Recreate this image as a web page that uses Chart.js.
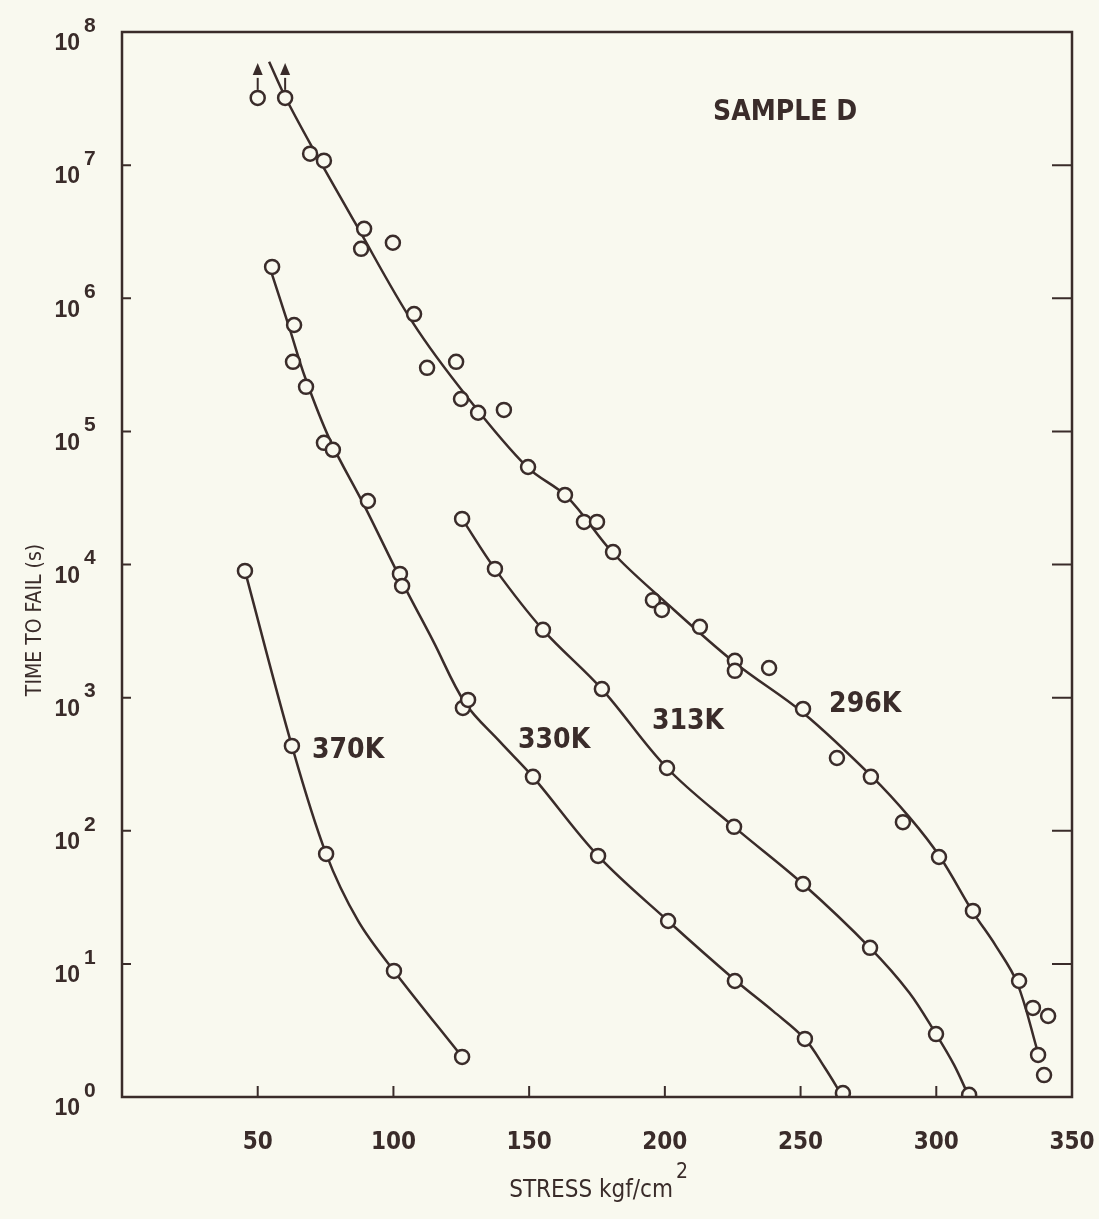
<!DOCTYPE html>
<html>
<head>
<meta charset="utf-8">
<title>Sample D - time to fail vs stress</title>
<script src="https://cdn.jsdelivr.net/npm/chart.js@4/dist/chart.umd.min.js"></script>
<style>
  html, body { margin: 0; padding: 0; background: #f9f9ef; }
  #wrap { width: 1099px; height: 1219px; }
</style>
</head>
<body>
<div id="wrap"><canvas id="chart" width="1099" height="1219"></canvas></div>
<script>
// measured points (stress kgf/cm2, time to fail s)
const stress296 = [50, 60.1, 69.3, 74.4, 89.2, 88.1, 99.8, 107.6, 112.4, 123.1, 124.9, 131.2, 140.7, 149.6, 163.2, 170.2, 175.0, 180.9, 195.6, 198.9, 212.9, 225.8, 225.8, 238.4, 250.9, 263.4, 275.9, 287.7, 301.0, 313.5, 330.5, 335.6, 341.2, 337.5, 339.7];
const time296 = [3.2e7, 3.2e7, 1.22e7, 1.08e7, 3.32e6, 2.35e6, 2.61e6, 7.6e5, 3.0e5, 3.33e5, 1.75e5, 1.38e5, 1.45e5, 5.4e4, 3.33e4, 2.09e4, 2.09e4, 1.24e4, 5.4e3, 4.56e3, 3.4e3, 1.89e3, 1.59e3, 1.67e3, 822, 352, 254, 116, 63.5, 25, 7.44, 4.67, 4.06, 2.07, 1.46];

const stress313 = [125.3, 137.4, 155.1, 176.8, 200.8, 225.5, 250.9, 275.6, 299.9, 312.1];
const time313 = [2.2e4, 9.27e3, 3.23e3, 1.16e3, 296, 107, 39.8, 13.2, 2.97, 1.04];

const stress330 = [55.3, 63.4, 63.0, 67.8, 74.4, 77.7, 90.6, 102.4, 103.2, 125.6, 127.5, 151.4, 175.4, 201.2, 225.8, 251.6, 265.6];
const time330 = [1.72e6, 6.3e5, 3.33e5, 2.16e5, 8.2e4, 7.27e4, 3.0e4, 8.5e3, 6.9e3, 837, 961, 254, 64.7, 21, 7.44, 2.73, 1.07];

const stress370 = [45.3, 62.6, 75.2, 100.2, 125.3];
const time370 = [8.95e3, 434, 67, 8.85, 2.0];

// hand-drawn curves
const curve296X = [54.2, 60.1, 70.0, 85.9, 107.2, 127.1, 149.2, 164.0, 180.9, 199.3, 225.9, 251.0, 276.4, 290.3, 301.4, 313.5, 321.7, 329.8, 337.5];
const curve296Y = [5.97e7, 3.26e7, 1.37e7, 3.68e6, 6.53e5, 1.82e5, 5.41e4, 3.22e4, 1.22e4, 5.42e3, 1.82e3, 767, 254, 125, 63.5, 24.5, 13.9, 7.2, 2.14];
const curve313X = [125.3, 137.4, 155.1, 176.8, 200.8, 225.5, 250.9, 275.6, 290.0, 299.9, 306.5, 312.1];
const curve313Y = [2.2e4, 9.27e3, 3.23e3, 1.16e3, 296, 107, 39.8, 13.2, 6.1, 2.97, 1.75, 1.0];
const curve330X = [54.5, 61.9, 67.4, 76.6, 89.5, 102.8, 114.6, 126.4, 139.3, 151.4, 175.4, 201.2, 225.8, 240.0, 251.6, 259.0, 265.6];
const curve330Y = [1.69e6, 5.79e5, 2.56e5, 8.63e4, 2.71e4, 7.66e3, 2.67e3, 912, 465, 254, 64.7, 21, 7.57, 4.4, 2.73, 1.65, 1.0];
const curve370X = [45.3, 62.6, 75.2, 87.0, 100.2, 125.3];
const curve370Y = [8.95e3, 434, 67, 21, 8.85, 2.0];

// points that did not fail (arrow up)
const runoutX = [50, 60.1];
const runoutY = [3.2e7, 3.2e7];

// axis ticks
const xTicks = [50, 100, 150, 200, 250, 300, 350];
const yExponents = [0, 1, 2, 3, 4, 5, 6, 7, 8];

// text on the plot
const noteTexts = ['370K', '330K', '313K', '296K', 'SAMPLE D'];
const noteX = [83.3, 159.2, 208.5, 273.8, 244.3];
const noteY = [398, 473, 657, 881, 2.47e7];

const INK = '#3a2c2a';
const PAPER = '#f9f9ef';
const FONT = '"Liberation Sans Narrow", "DejaVu Sans Condensed", "Noto Sans", sans-serif';

function pts(xs, ys) {
  return xs.map((x, i) => ({ x: x, y: ys[i] }));
}

function pointSet(xs, ys) {
  return {
    data: pts(xs, ys),
    showLine: false,
    pointRadius: 7,
    pointBorderWidth: 2.5,
    pointBorderColor: INK,
    pointBackgroundColor: PAPER,
    order: 0
  };
}

function curveSet(xs, ys) {
  return {
    data: pts(xs, ys),
    showLine: true,
    pointRadius: 0,
    borderColor: INK,
    borderWidth: 2.5,
    tension: 0.35,
    order: 1
  };
}

const decorations = {
  id: 'decorations',
  afterDatasetsDraw(chart) {
    const ctx = chart.ctx;
    const xs = chart.scales.x;
    const ys = chart.scales.y;
    const a = chart.chartArea;
    ctx.save();
    ctx.strokeStyle = INK;
    ctx.fillStyle = INK;

    // frame
    ctx.lineWidth = 2.5;
    ctx.strokeRect(a.left, a.top, a.right - a.left, a.bottom - a.top);

    // x ticks (inward) and labels
    ctx.lineWidth = 2;
    ctx.font = 'bold 24px ' + FONT;
    ctx.textAlign = 'center';
    ctx.textBaseline = 'middle';
    xTicks.forEach(v => {
      const px = xs.getPixelForValue(v);
      if (v < 350) {
        ctx.beginPath();
        ctx.moveTo(px, a.bottom);
        ctx.lineTo(px, a.bottom - 11);
        ctx.stroke();
      }
      ctx.fillText(String(v), px, a.bottom + 46);
    });

    // y ticks on both sides and 10^n labels
    yExponents.forEach(e => {
      const py = ys.getPixelForValue(Math.pow(10, e));
      if (e > 0 && e < 8) {
        ctx.beginPath();
        ctx.moveTo(a.left, py);
        ctx.lineTo(a.left + 9, py);
        ctx.moveTo(a.right, py);
        ctx.lineTo(a.right - 20, py);
        ctx.stroke();
      }
      ctx.textAlign = 'right';
      ctx.font = 'bold 23px "Liberation Sans", "DejaVu Sans", sans-serif';
      ctx.fillText('10', 80, py + 12);
      ctx.textAlign = 'left';
      ctx.font = 'bold 21px "Liberation Sans", "DejaVu Sans", sans-serif';
      ctx.fillText(String(e), 84, py - 6);
    });

    // axis titles
    ctx.font = '21px ' + FONT;
    ctx.textAlign = 'center';
    ctx.save();
    ctx.translate(36, 620);
    ctx.rotate(-Math.PI / 2);
    ctx.fillText('TIME TO FAIL (s)', 0, 0);
    ctx.restore();

    ctx.font = '24px ' + FONT;
    ctx.textAlign = 'right';
    ctx.fillText('STRESS kgf/cm', 673, 1191);
    ctx.textAlign = 'left';
    ctx.font = '21px ' + FONT;
    ctx.fillText('2', 676, 1173);

    // notes
    ctx.font = 'bold 28px ' + FONT;
    ctx.textAlign = 'center';
    noteTexts.forEach((t, i) => {
      ctx.fillText(t, xs.getPixelForValue(noteX[i]), ys.getPixelForValue(noteY[i]));
    });

    // run-out arrows
    ctx.lineWidth = 2;
    runoutX.forEach((v, i) => {
      const px = xs.getPixelForValue(v);
      const py = ys.getPixelForValue(runoutY[i]) - 8;
      ctx.beginPath();
      ctx.moveTo(px, py);
      ctx.lineTo(px, py - 12);
      ctx.stroke();
      ctx.beginPath();
      ctx.moveTo(px, py - 27);
      ctx.lineTo(px - 5, py - 15);
      ctx.lineTo(px + 5, py - 15);
      ctx.closePath();
      ctx.fill();
    });
    ctx.restore();
  }
};

const bgPlugin = {
  id: 'bg',
  beforeDraw(chart) {
    const ctx = chart.ctx;
    ctx.save();
    ctx.fillStyle = PAPER;
    ctx.fillRect(0, 0, chart.width, chart.height);
    ctx.restore();
  }
};

new Chart(document.getElementById('chart').getContext('2d'), {
  type: 'scatter',
  data: {
    datasets: [
      pointSet(stress296, time296),
      pointSet(stress313, time313),
      pointSet(stress330, time330),
      pointSet(stress370, time370),
      curveSet(curve296X, curve296Y),
      curveSet(curve313X, curve313Y),
      curveSet(curve330X, curve330Y),
      curveSet(curve370X, curve370Y)
    ]
  },
  options: {
    responsive: false,
    animation: false,
    devicePixelRatio: 1,
    layout: { padding: { left: 122, right: 27, top: 32, bottom: 122 } },
    plugins: { legend: { display: false }, tooltip: { enabled: false } },
    scales: {
      x: { type: 'linear', min: 0, max: 350, display: false },
      y: { type: 'logarithmic', min: 1, max: 1e8, display: false }
    }
  },
  plugins: [bgPlugin, decorations]
});
</script>
</body>
</html>
